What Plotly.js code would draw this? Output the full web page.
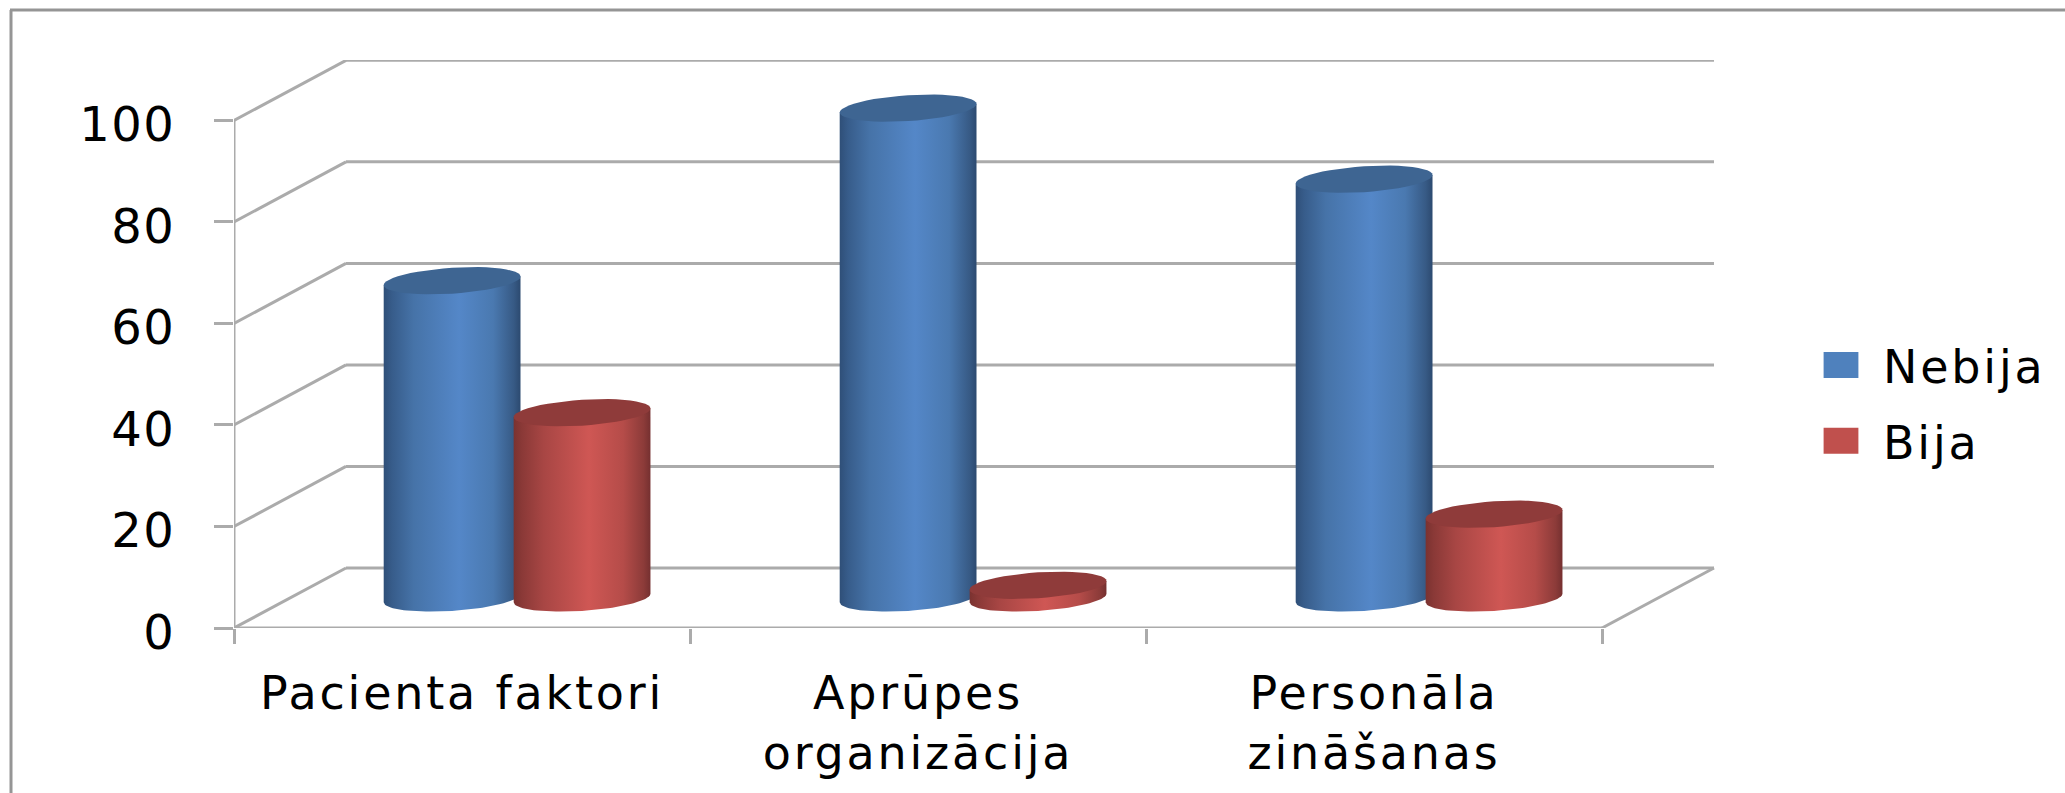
<!DOCTYPE html>
<html>
<head>
<meta charset="utf-8">
<script src="https://cdn.plot.ly/plotly-3.0.1.min.js"></script>
<style>
html,body{margin:0;padding:0;background:#fff;overflow:hidden}
.xtick text,.legendtext{letter-spacing:2.8px}
.ytick text{letter-spacing:1.5px}
.legend .legendpoints path{transform:translate(20px,0) scale(2.9,2.17)}
</style>
</head>
<body>
<div id="chart" style="width:2065px;height:793px"></div>
<script>
var categories = ["Pacienta faktori", "Aprūpes<br>organizācija", "Personāla<br>zināšanas"];
var nebija = [62.5, 96.5, 82.5];
var bija = [36.5, 2.5, 16.5];
var seriesNames = ["Nebija", "Bija"];
var valueTicks = [0, 20, 40, 60, 80, 100];

var W = 2065, H = 793;
var L = 234, R = 1716, T = 60, B = 628;
var xMax = 3.25, yMax = 111.9;
var depthX = 0.2456, depthY = 11.83;
var baseY = depthY / 2;
var halfW = 0.15, ellB = 2.55, ellS = 0.85, off = 0.1425, nudge = -0.002;
var GRID = "#ababab";

function px(x){ return (x - L) / (R - L); }
function py(y){ return (B - y) / (B - T); }

var gridX = [], gridY = [];
function seg(x0, y0, x1, y1){ gridX.push(x0, x1, null); gridY.push(y0, y1, null); }
valueTicks.forEach(function(v){
  seg(0, v, depthX, v + depthY);
  seg(depthX, v + depthY, 3 + depthX, v + depthY);
});
seg(3, 0, 3 + depthX, depthY);
seg(0, 0, 0, 100);
seg(0, 0, 3, 0);

var blueScale = [[0,"#2f4f78"],[0.06,"#375c8a"],[0.22,"#4673a8"],[0.55,"#5487c8"],[0.8,"#4a79b0"],[0.95,"#375a85"],[1,"#2c4a70"]];
var redScale = [[0,"#7a3230"],[0.06,"#8a3937"],[0.22,"#a84644"],[0.55,"#cf5754"],[0.8,"#b54c49"],[0.95,"#8c3b39"],[1,"#753030"]];

function arc(cx, cy, t0, t1){
  var xs = [], ys = [], n = 48;
  for (var i = 0; i <= n; i++){
    var t = t0 + (t1 - t0) * i / n;
    xs.push(cx + halfW * Math.cos(t));
    ys.push(cy - ellB * Math.sin(t) + ellS * Math.cos(t));
  }
  return {x: xs, y: ys};
}

var traces = [];
traces.push({type:"bar", name:seriesNames[0], legendgroup:"a",
  x:nebija.map(function(v,i){return i + 0.5 + depthX/2 - off + nudge;}), y:nebija, base:baseY, width:0.2,
  marker:{color:"#4f81bd"}, hoverinfo:"skip"});
traces.push({type:"bar", name:seriesNames[1], legendgroup:"b",
  x:bija.map(function(v,i){return i + 0.5 + depthX/2 + off + nudge;}), y:bija, base:baseY, width:0.2,
  marker:{color:"#c0504d"}, hoverinfo:"skip"});
traces.push({type:"scatter", mode:"lines", x:gridX, y:gridY, line:{color:GRID, width:3},
  cliponaxis:false, showlegend:false, hoverinfo:"skip", connectgaps:false});

function cylinder(values, shift, scale, topColor){
  values.forEach(function(v, i){
    var cx = i + 0.5 + depthX/2 + shift + nudge, top = baseY + v;
    var front = arc(cx, baseY, 0, Math.PI);
    traces.push({type:"scatter", mode:"lines", line:{width:0}, fill:"toself",
      x:[cx - halfW, cx + halfW].concat(front.x),
      y:[top - ellS, top + ellS].concat(front.y),
      fillgradient:{type:"horizontal", colorscale:scale},
      showlegend:false, hoverinfo:"skip", cliponaxis:false});
    var cap = arc(cx, top, 0, 2 * Math.PI);
    traces.push({type:"scatter", mode:"lines", line:{width:0}, fill:"toself",
      x:cap.x, y:cap.y, fillcolor:topColor, showlegend:false, hoverinfo:"skip", cliponaxis:false});
  });
}
cylinder(nebija, -off, blueScale, "#3e6592");
cylinder(bija, off, redScale, "#8f3b3a");

var layout = {
  width:W, height:H, autosize:false,
  margin:{l:L, r:W-R, t:T, b:H-B, pad:0},
  paper_bgcolor:"#fff", plot_bgcolor:"rgba(0,0,0,0)",
  font:{family:"DejaVu Sans", size:46, color:"#000"},
  barmode:"overlay", hovermode:false,
  xaxis:{range:[0,xMax], showgrid:false, zeroline:false, showline:false, automargin:false,
    tickmode:"array", tickvals:[0.5,1.5,2.5], ticktext:categories, ticks:"", ticklabelstandoff:34,
    tickfont:{family:"DejaVu Sans", size:46, color:"#000"},
    minor:{tickmode:"array", tickvals:[0,1,2,3], ticks:"outside", ticklen:15, tickwidth:3, tickcolor:GRID, showgrid:false}},
  yaxis:{range:[0,yMax], showgrid:false, zeroline:false, showline:false, automargin:false,
    tickmode:"array", tickvals:valueTicks, ticks:"outside", ticklen:19, tickwidth:3, tickcolor:GRID,
    ticklabelstandoff:29, ticklabelshift:4, tickfont:{family:"DejaVu Sans", size:48, color:"#000"}},
  showlegend:true,
  legend:{x:px(1821), xanchor:"left", y:py(403), yanchor:"middle", traceorder:"grouped", tracegroupgap:13,
    itemwidth:52, itemclick:false, itemdoubleclick:false, bgcolor:"rgba(0,0,0,0)", borderwidth:0,
    font:{family:"DejaVu Sans", size:46, color:"#000"}},
  shapes:[
    {type:"line", xref:"paper", yref:"paper", x0:px(11), x1:px(11), y0:py(10), y1:py(793), line:{color:"#959595", width:3}},
    {type:"line", xref:"paper", yref:"paper", x0:px(10), x1:px(2065), y0:py(10), y1:py(10), line:{color:"#959595", width:3}}
  ]
};
Plotly.newPlot("chart", traces, layout, {displayModeBar:false, staticPlot:true});
</script>
</body>
</html>
